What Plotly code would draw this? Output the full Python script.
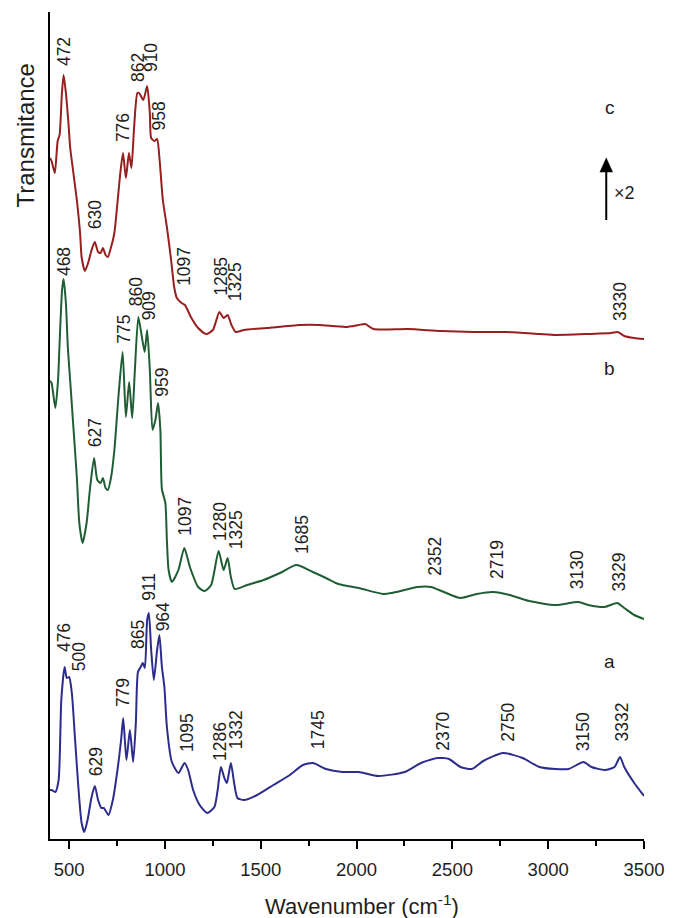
import plotly.graph_objects as go

# ---- FT-IR spectra (wavenumber in cm-1, transmittance in offset arbitrary units) ----
wn_c = [400, 408, 425, 440, 450, 462, 471, 483, 497, 505, 522, 540, 557, 565, 582, 599, 617, 634,
        651, 664, 676, 690, 702, 719, 736, 750, 767, 781, 796, 812, 825, 839, 856, 865, 887, 907,
        921, 928, 945, 959, 972, 989, 1010, 1032, 1048, 1062, 1087, 1104, 1138, 1173, 1215, 1250,
        1284, 1306, 1327, 1347, 1369, 1412, 1532, 1703, 1806, 1943, 2011, 2045, 2088, 2268, 2439,
        2610, 2781, 2953, 3038, 3209, 3329, 3363, 3397, 3449, 3500]
tr_c = [681, 678, 666, 698, 704, 745, 764, 746, 714, 692, 666, 639, 606, 582, 568, 576, 589, 597,
        587, 586, 591, 584, 582, 592, 606, 632, 666, 686, 661, 686, 671, 712, 746, 746, 739, 753,
        726, 701, 698, 700, 679, 639, 612, 579, 552, 541, 536, 534, 521, 511, 505, 509,
        527, 521, 524, 514, 507, 509, 511, 514, 514, 512, 514, 515, 510, 510, 508,
        507, 507, 505, 504, 505, 506, 507, 503, 501, 500]

wn_b = [400, 408, 428, 442, 449, 463, 471, 483, 493, 505, 522, 540, 553, 570, 591, 608, 630, 647,
        664, 676, 690, 702, 719, 736, 757, 779, 796, 813, 829, 843, 861, 882, 894, 907, 921, 935,
        950, 964, 976, 984, 1002, 1010, 1019, 1036, 1070, 1101, 1130, 1173, 1207, 1241, 1280,
        1306, 1327, 1344, 1364, 1429, 1515, 1600, 1686, 1772, 1840, 1891, 1926, 2011, 2139, 2183,
        2319, 2388, 2456, 2542, 2627, 2713, 2799, 2901, 3038, 3158, 3209, 3295, 3360, 3397, 3449,
        3500]
tr_b = [458, 456, 431, 459, 491, 549, 560, 536, 492, 459, 412, 362, 316, 296, 316, 349, 381, 359,
        356, 361, 351, 349, 362, 389, 442, 487, 422, 457, 421, 469, 522, 499, 487, 509, 469, 409,
        419, 436, 409, 350, 336, 299, 269, 257, 269, 291, 272, 252, 248, 254, 288,
        269, 281, 262, 250, 254, 259, 266, 274, 267, 261, 256, 254, 251, 245, 246,
        252, 252, 247, 241, 245, 247, 244, 238, 234, 237, 234, 232, 236, 231, 224,
        220]

wn_a = [400, 408, 428, 445, 459, 476, 488, 500, 514, 531, 548, 565, 579, 596, 617, 634, 651, 668,
        681, 705, 728, 750, 771, 782, 799, 817, 834, 848, 859, 873, 884, 895, 907, 916, 928, 942,
        959, 971, 984, 997, 1010, 1036, 1070, 1102, 1121, 1147, 1181, 1220, 1258, 1275, 1292,
        1310, 1323, 1344, 1361, 1378, 1412, 1481, 1566, 1652, 1720, 1772, 1840, 1926, 2011, 2114,
        2251, 2336, 2422, 2482, 2542, 2601, 2661, 2764, 2867, 2953, 3038, 3107, 3184, 3226, 3295,
        3346, 3375, 3397, 3449, 3500]
tr_a = [49, 49, 47, 59, 139, 172, 161, 162, 146, 99, 52, 16, 7, 19, 42, 53, 39, 31,
        31, 24, 39, 66, 99, 121, 79, 109, 77, 116, 167, 172, 176, 171, 219, 226, 189, 159,
        189, 204, 172, 152, 112, 77, 66, 76, 69, 49, 34, 26, 32, 49, 72,
        61, 56, 76, 56, 41, 39, 44, 54, 64, 74, 76, 70, 67, 67, 63,
        67, 76, 81, 80, 72, 70, 78, 86, 81, 72, 70, 70, 77, 72, 69,
        72, 82, 72, 56, 43]

# peak labels: (text, wavenumber position, baseline level of the label)
peaks_c = [("472", 471, 772), ("630", 634, 609), ("776", 779, 696), ("862", 856, 756),
           ("910", 925, 766), ("958", 964, 707), ("1097", 1096, 552), ("1285", 1289, 542),
           ("1325", 1364, 537), ("3330", 3372, 517)]
peaks_b = [("468", 471, 562), ("627", 634, 391), ("775", 782, 494), ("860", 848, 532),
           ("909", 916, 518), ("959", 981, 441), ("1097", 1101, 302), ("1280", 1284, 297),
           ("1325", 1369, 289), ("1685", 1712, 284), ("2352", 2405, 262), ("2719", 2730, 259),
           ("3130", 3149, 249), ("3329", 3369, 247)]
peaks_a = [("476", 471, 186), ("500", 550, 167), ("629", 639, 62), ("779", 779, 131),
           ("865", 856, 189), ("911", 916, 237), ("964", 989, 207), ("1095", 1113, 86),
           ("1286", 1284, 77), ("1332", 1369, 89), ("1745", 1797, 89), ("2370", 2447, 87),
           ("2750", 2786, 96), ("3150", 3180, 87), ("3332", 3380, 96)]

# curve letters: (text, wavenumber, level)
curve_tags = [("c", 3320, 732), ("b", 3320, 471), ("a", 3320, 178)]

# "x2" scale marker: arrow position (wavenumber) and its bottom / tip levels
scale_arrow_x = 3303
scale_arrow_bottom = 619
scale_arrow_tip = 681

x_ticks = [500, 1000, 1500, 2000, 2500, 3000, 3500]
x_range = [400, 3500]
y_range = [0, 827]

FONT = "Liberation Sans, Arial, sans-serif"
TXT = "#1e1e1e"

series = [
    ("a", wn_a, tr_a, "#2c2c8c"),
    ("b", wn_b, tr_b, "#1f5e34"),
    ("c", wn_c, tr_c, "#961f1f"),
]

fig = go.Figure()
for name, xs, ys, col in series:
    fig.add_trace(go.Scatter(
        x=xs, y=ys, mode="lines", name=name,
        line=dict(color=col, width=2, shape="spline", smoothing=0.6),
        showlegend=False, hoverinfo="skip",
    ))

annotations = []
for group in (peaks_c, peaks_b, peaks_a):
    for txt, xv, yv in group:
        annotations.append(dict(
            x=xv, y=yv, xref="x", yref="y", text=txt, showarrow=False,
            textangle=-90, xanchor="center", yanchor="bottom",
            font=dict(family=FONT, size=17.5, color=TXT), borderpad=0,
        ))

for txt, xv, yv in curve_tags:
    annotations.append(dict(
        x=xv, y=yv, xref="x", yref="y", text=txt, showarrow=False,
        xanchor="center", yanchor="middle",
        font=dict(family=FONT, size=19, color=TXT),
    ))

annotations.append(dict(
    x=scale_arrow_x + 93, y=(scale_arrow_bottom + scale_arrow_tip) / 2 - 4,
    xref="x", yref="y", text="×2", showarrow=False,
    xanchor="center", yanchor="middle",
    font=dict(family=FONT, size=18, color=TXT),
))

# axis titles (y title sits in the upper part of the axis)
annotations.append(dict(
    x=-0.0415, y=0.851, xref="paper", yref="paper", text="Transmitance",
    showarrow=False, textangle=-90, xanchor="center", yanchor="middle",
    font=dict(family=FONT, size=24, color=TXT),
))
annotations.append(dict(
    x=0.525, y=-0.0798, xref="paper", yref="paper", text="Wavenumber (cm<sup>-1</sup>)",
    showarrow=False, xanchor="center", yanchor="middle",
    font=dict(family=FONT, size=22, color=TXT),
))

# arrow of the scale marker: shaft plus filled head
head_half = 33
head_len = 14
shapes = [
    dict(type="line", xref="x", yref="y",
         x0=scale_arrow_x, x1=scale_arrow_x,
         y0=scale_arrow_bottom, y1=scale_arrow_tip - head_len + 1,
         line=dict(color="black", width=2)),
    dict(type="path", xref="x", yref="y",
         path=(f"M {scale_arrow_x - head_half},{scale_arrow_tip - head_len} "
               f"L {scale_arrow_x + head_half},{scale_arrow_tip - head_len} "
               f"L {scale_arrow_x},{scale_arrow_tip} Z"),
         fillcolor="black", line=dict(color="black", width=0.5)),
]

fig.update_layout(
    width=677, height=918,
    margin=dict(l=50, r=24, t=12, b=79),
    paper_bgcolor="white", plot_bgcolor="white",
    annotations=annotations, shapes=shapes,
    font=dict(family=FONT, color=TXT),
)
fig.update_xaxes(
    range=x_range, tickvals=x_ticks, ticks="outside", ticklen=8, tickwidth=1.5,
    tickcolor="black", showline=True, linecolor="black", linewidth=1.5,
    showgrid=False, zeroline=False, tickfont=dict(family=FONT, size=18.5, color=TXT),
    ticklabelstandoff=5,
    minor=dict(ticks="outside", ticklen=5, tickwidth=1.5, tickcolor="black",
               tick0=250, dtick=250, showgrid=False),
)
fig.update_yaxes(
    range=y_range, showline=True, linecolor="black", linewidth=1.5,
    ticks="", showticklabels=False, showgrid=False, zeroline=False,
)

fig.write_html("out.html")
